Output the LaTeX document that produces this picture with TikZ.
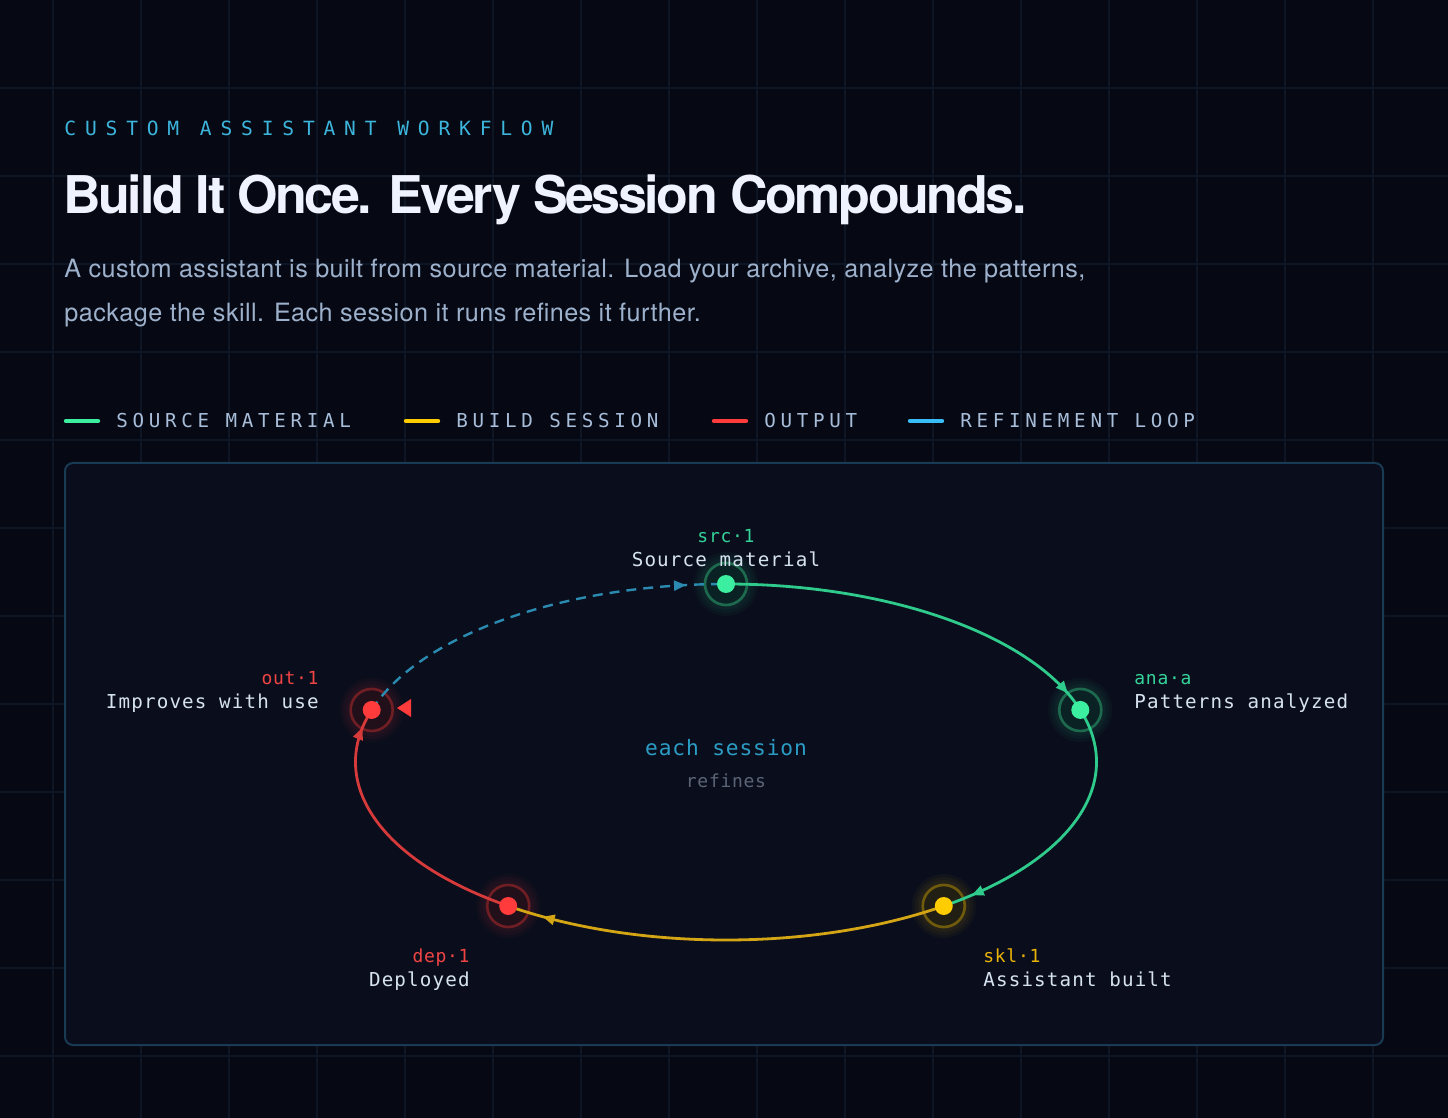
\documentclass[tikz,border=0pt]{standalone}
\usepackage{fontspec}
\setmainfont{TeX Gyre Heros}
\newfontfamily\titlefont[LetterSpace=-4.6]{TeX Gyre Heros}
\newfontfamily\parafont[LetterSpace=1.7]{TeX Gyre Heros}
\newfontfamily\eyebrowfont[LetterSpace=45]{DejaVu Sans Mono}
\newfontfamily\legendfont[LetterSpace=24.5]{DejaVu Sans Mono}
\newfontfamily\namefont[LetterSpace=6]{DejaVu Sans Mono}
\newfontfamily\tagfont[LetterSpace=4]{DejaVu Sans Mono}
\usetikzlibrary{arrows.meta,decorations.markings}
\definecolor{bg}{HTML}{060913}
\definecolor{gridc}{HTML}{0E1524}
\definecolor{panelfill}{HTML}{0A0E1C}
\definecolor{panelborder}{HTML}{183A52}
\definecolor{titlec}{HTML}{EEF3FF}
\definecolor{parac}{HTML}{9DB1CC}
\definecolor{legendc}{HTML}{A7BDD9}
\definecolor{eyebrowc}{HTML}{3CB4DC}
\definecolor{namec}{HTML}{D6E2F0}
\definecolor{greenc}{HTML}{3CEFA0}
\definecolor{greenarc}{HTML}{2FCB8C}
\definecolor{greentag}{HTML}{34D399}
\definecolor{yellowc}{HTML}{FFCC00}
\definecolor{yellowarc}{HTML}{D4A514}
\definecolor{yellowtag}{HTML}{EAB308}
\definecolor{redc}{HTML}{FF3B3B}
\definecolor{redarc}{HTML}{D63A3A}
\definecolor{redtag}{HTML}{EF4444}
\definecolor{cyanc}{HTML}{38BDF8}
\definecolor{dasharc}{HTML}{2A8AB0}
\definecolor{centerc}{HTML}{2B9CC4}
\definecolor{refinec}{HTML}{5B6577}
\tikzset{
  ring/.style={circle, minimum size=21pt, inner sep=0pt, draw=#1!42!bg, line width=1.3pt, fill=#1!8!bg, fill opacity=0.5},
  legline/.style={line width=2.2pt, line cap=round, draw=#1},
  legtext/.style={anchor=base west, inner sep=0pt, text=legendc, font=\legendfont\fontsize{9.6}{11}\selectfont},
  nametext/.style={inner sep=0pt, text=namec, font=\namefont\fontsize{9.6}{11}\selectfont},
  tagtext/.style={inner sep=0pt, text=#1, font=\tagfont\fontsize{9}{11}\selectfont},
  looparc/.style 2 args={draw=#1, line width=1.4pt, postaction={decorate},
    decoration={markings, mark=at position -#2 with {\arrow[#1]{Triangle[length=6pt,width=5pt]}}}},
}
\begin{document}
\begin{tikzpicture}[x=0.5pt,y=0.5pt]
\useasboundingbox (0,0) rectangle (1448,-1118);
\fill[bg] (0,0) rectangle (1448,-1118);
% grid
\foreach \gx in {53,141,...,1450} \draw[gridc, line width=0.6pt] (\gx,0) -- (\gx,-1118);
\foreach \gy in {88,176,...,1100} \draw[gridc, line width=0.6pt] (0,-\gy) -- (1448,-\gy);
% header
\node[anchor=base west, inner sep=0pt, text=eyebrowc, font=\eyebrowfont\fontsize{9.8}{12}\selectfont] (eyebrow) at (64,-136) {CUSTOM ASSISTANT WORKFLOW};
\node[anchor=base west, inner sep=0pt, text=titlec, font=\titlefont\bfseries\fontsize{26}{30}\selectfont] (title) at (63,-214) {Build It Once. Every Session Compounds.};
\node[anchor=base west, inner sep=0pt, text=parac, font=\parafont\fontsize{12.6}{14}\selectfont] (para1) at (64,-278) {A custom assistant is built from source material. Load your archive, analyze the patterns,};
\node[anchor=base west, inner sep=0pt, text=parac, font=\parafont\fontsize{12.6}{14}\selectfont] (para2) at (64,-322) {package the skill. Each session it runs refines it further.};
% legend
\draw[legline=greenc] (66,-421) -- (98,-421);
\node[legtext] (lg1) at (116,-428) {SOURCE MATERIAL};
\draw[legline=yellowc] (406,-421) -- (438,-421);
\node[legtext] (lg2) at (456,-428) {BUILD SESSION};
\draw[legline=redc] (714,-421) -- (746,-421);
\node[legtext] (lg3) at (764,-428) {OUTPUT};
\draw[legline=cyanc] (910,-421) -- (942,-421);
\node[legtext] (lg4) at (960,-428) {REFINEMENT LOOP};
% panel
\draw[fill=panelfill, draw=panelborder, line width=1pt, rounded corners=4pt] (65,-463) rectangle (1383,-1045);
% centre of loop
\coordinate (C) at (726,-762);
\path (C) ++(90:370.5 and 178) coordinate (src-c);
\path (C) ++(17:370.5 and 178) coordinate (ana-c);
\path (C) ++(-54:370.5 and 178) coordinate (skl-c);
\path (C) ++(-126:370.5 and 178) coordinate (dep-c);
\path (C) ++(163:370.5 and 178) coordinate (out-c);
% glows
\foreach \n/\c in {src/greenc,ana/greenc,skl/yellowc,dep/redc,out/redc}{
  \foreach \r in {32,29,26,23}{
    \fill[\c, opacity=0.035] (\n-c) circle[radius=\r];
  }
}
% rings
\node[ring=greenc] (src) at (src-c) {};
\node[ring=greenc] (ana) at (ana-c) {};
\node[ring=yellowc] (skl) at (skl-c) {};
\node[ring=redc] (dep) at (dep-c) {};
\node[ring=redc] (out) at (out-c) {};
% arcs
\draw[looparc={greenarc}{10.5pt}] (src.center) arc[start angle=90, end angle=17, x radius=370.5, y radius=178];
\draw[looparc={greenarc}{15pt}] (ana.center) arc[start angle=17, end angle=-54, x radius=370.5, y radius=178];
\draw[looparc={yellowarc}{18pt}] (skl.center) arc[start angle=-54, end angle=-126, x radius=370.5, y radius=178];
\draw[looparc={redarc}{10pt}] (dep.center) arc[start angle=-126, end angle=-197, x radius=370.5, y radius=178];
\draw[looparc={dasharc}{20pt}, dash pattern=on 5pt off 3.5pt, line width=1.2pt] (out.center) arc[start angle=163, end angle=90, x radius=370.5, y radius=178];
% dots
\fill[greenc] (src) circle[radius=9];
\fill[greenc] (ana) circle[radius=9];
\fill[yellowc] (skl) circle[radius=9];
\fill[redc] (dep) circle[radius=9];
\fill[redc] (out) circle[radius=9];
% standalone red pointer
\fill[redc] (397,-708) -- (411,-699) -- (411,-717) -- cycle;
% labels
\node[tagtext=greentag, anchor=base] (srctag) at (726,-543) {src·1};
\node[nametext, anchor=base] (srcname) at (726,-567) {Source material};
\node[tagtext=greentag, anchor=base west] (anatag) at (1134,-684) {ana·a};
\node[nametext, anchor=base west] (ananame) at (1134,-708) {Patterns analyzed};
\node[tagtext=yellowtag, anchor=base west] (skltag) at (983,-962) {skl·1};
\node[nametext, anchor=base west] (sklname) at (983,-986) {Assistant built};
\node[tagtext=redtag, anchor=base east] (deptag) at (470,-962) {dep·1};
\node[nametext, anchor=base east] (depname) at (470,-986) {Deployed};
\node[tagtext=redtag, anchor=base east] (outtag) at (319,-684) {out·1};
\node[nametext, anchor=base east] (outname) at (319,-708) {Improves with use};
% centre text
\node[anchor=base, inner sep=0pt, text=centerc, font=\tagfont\fontsize{10.6}{12}\selectfont] (each) at (726,-755) {each session};
\node[anchor=base, inner sep=0pt, text=refinec, font=\tagfont\fontsize{9}{11}\selectfont] (refines) at (726,-787) {refines};
\end{tikzpicture}
\end{document}
